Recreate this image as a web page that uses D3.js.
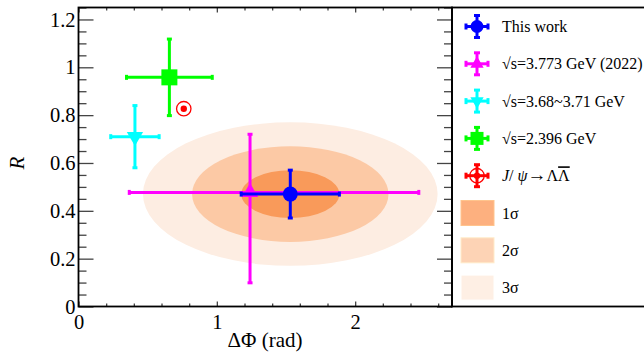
<!DOCTYPE html>
<html>
<head>
<meta charset="utf-8">
<script src="https://cdn.jsdelivr.net/npm/d3@7"></script>
<style>
  body { margin: 0; background: #fff; }
  text { font-family: 'Liberation Serif', 'Times New Roman', serif; fill: #000; }
</style>
</head>
<body>
<div id="chart"></div>
<script>
// measurements: [dPhi, dPhi err low, dPhi err high, R, R err low, R err high]
const seriesNames = ['This work', '√s=3.773 GeV (2022)', '√s=3.68~3.71 GeV', '√s=2.396 GeV', 'J/ψ→ΛΛ'];
const seriesColors = ['#0000ff', '#ff00ff', '#00ffff', '#00ff00', '#ff0000'];
const seriesShapes = ['circle', 'triangleUp', 'triangleDown', 'square', 'openCircle'];
const dPhiValues = [1.531, 1.240, 0.408, 0.657, 0.761];
const dPhiErrLow = [0.355, 0.873, 0.175, 0.31, 0];
const dPhiErrHigh = [0.355, 1.22, 0.175, 0.31, 0];
const rValues = [0.47, 0.477, 0.71, 0.958, 0.827];
const rErrLow = [0.10, 0.378, 0.13, 0.16, 0];
const rErrHigh = [0.10, 0.243, 0.13, 0.16, 0];

// contour regions around this work
const sigmaLabels = ['1σ', '2σ', '3σ'];
const sigmaScale = [1, 2, 3];
const sigmaFill = ['#f99a5a', '#fcc9a5', '#fdede2'];
const sigmaLegendFill = ['#fdb07f', '#fdd3b5', '#feefe4'];

const xMajorTicks = [0, 1, 2];
const yMajorTicks = [0, 0.2, 0.4, 0.6, 0.8, 1, 1.2];

const width = 644, height = 356;
const margin = {top: 7.5, right: 192, bottom: 50, left: 78.5};

const svg = d3.select('#chart').append('svg')
    .attr('width', width)
    .attr('height', height);

const x = d3.scaleLinear()
    .domain([0, 2.7])
    .range([margin.left, width - margin.right]);

const y = d3.scaleLinear()
    .domain([0, 1.25])
    .range([height - margin.bottom + 0.5, margin.top]);

const data = seriesNames.map((name, i) => ({
  name: name,
  color: seriesColors[i],
  shape: seriesShapes[i],
  x: dPhiValues[i], xLo: dPhiErrLow[i], xHi: dPhiErrHigh[i],
  y: rValues[i], yLo: rErrLow[i], yHi: rErrHigh[i]
}));

// Sigma ellipses, biggest first
const center = data[0];
const ellipses = sigmaScale.map((s, i) => ({s: s, fill: sigmaFill[i]})).reverse();
svg.append('g').selectAll('ellipse')
    .data(ellipses)
  .enter().append('ellipse')
    .attr('cx', x(center.x))
    .attr('cy', y(center.y))
    .attr('rx', d => x(center.x + d.s * center.xHi) - x(center.x))
    .attr('ry', d => y(center.y) - y(center.y + d.s * center.yHi))
    .attr('fill', d => d.fill);

// Marker drawing helper
function drawMarker(g, shape, color, size) {
  if (shape === 'circle') {
    g.append('circle').attr('r', size * 0.5).attr('fill', color);
  } else if (shape === 'triangleUp' || shape === 'triangleDown') {
    g.append('path')
        .attr('d', d3.symbol(d3.symbolTriangle, size * size * 0.45)())
        .attr('transform', shape === 'triangleDown' ? 'rotate(180)' : null)
        .attr('fill', color);
  } else if (shape === 'square') {
    g.append('rect')
        .attr('x', -size / 2).attr('y', -size / 2)
        .attr('width', size).attr('height', size)
        .attr('fill', color);
  } else if (shape === 'openCircle') {
    g.append('circle').attr('r', size * 0.45)
        .attr('fill', 'none').attr('stroke', color).attr('stroke-width', 1.3);
    g.append('circle').attr('r', size * 0.2).attr('fill', color);
  }
}

// Error bars + markers; draw "This work" last so it sits on top
const plotOrder = [1, 2, 3, 4, 0];
const points = svg.append('g');
plotOrder.forEach(i => {
  const d = data[i];
  const g = points.append('g');
  const cx = x(d.x), cy = y(d.y);
  const x0 = x(d.x - d.xLo), x1 = x(d.x + d.xHi);
  const y0 = y(d.y - d.yLo), y1 = y(d.y + d.yHi);
  const cap = 2.5;
  if (d.xLo + d.xHi > 0) {
    g.append('line').attr('x1', x0).attr('x2', x1).attr('y1', cy).attr('y2', cy);
    g.append('line').attr('x1', x0).attr('x2', x0).attr('y1', cy - cap).attr('y2', cy + cap);
    g.append('line').attr('x1', x1).attr('x2', x1).attr('y1', cy - cap).attr('y2', cy + cap);
  }
  if (d.yLo + d.yHi > 0) {
    g.append('line').attr('x1', cx).attr('x2', cx).attr('y1', y0).attr('y2', y1);
    g.append('line').attr('x1', cx - cap).attr('x2', cx + cap).attr('y1', y0).attr('y2', y0);
    g.append('line').attr('x1', cx - cap).attr('x2', cx + cap).attr('y1', y1).attr('y2', y1);
  }
  g.selectAll('line').attr('stroke', d.color).attr('stroke-width', 3);
  const size = d.shape === 'circle' ? 15 : 16;
  drawMarker(g.append('g').attr('transform', `translate(${cx},${cy})`), d.shape, d.color, size);
});

// Axes: ticks pointing inward on all four sides
const xMinor = d3.range(0, 2.71, 0.2).filter(v => !xMajorTicks.some(t => Math.abs(t - v) < 1e-6));
const yMinor = d3.range(0, 1.251, 0.05).filter(v => !yMajorTicks.some(t => Math.abs(t - v) < 1e-6));

const bottomAxis = svg.append('g').attr('transform', `translate(0,${y(0)})`)
    .call(d3.axisBottom(x).tickValues(xMajorTicks).tickSizeInner(-5).tickSizeOuter(0).tickPadding(8).tickFormat(d3.format('d')));
bottomAxis.append('g').call(d3.axisBottom(x).tickValues(xMinor).tickSize(-3).tickFormat(''));

const topAxis = svg.append('g').attr('transform', `translate(0,${margin.top})`)
    .call(d3.axisTop(x).tickValues(xMajorTicks).tickSize(-5).tickFormat(''));
topAxis.append('g').call(d3.axisTop(x).tickValues(xMinor).tickSize(-3).tickFormat(''));

const leftAxis = svg.append('g').attr('transform', `translate(${margin.left},0)`)
    .call(d3.axisLeft(y).tickValues(yMajorTicks).tickSizeInner(-15).tickSizeOuter(0).tickPadding(3).tickFormat(d => d3.format('')(d)));
leftAxis.append('g').call(d3.axisLeft(y).tickValues(yMinor).tickSize(-8).tickFormat(''));

const rightAxis = svg.append('g').attr('transform', `translate(${x(2.7)},0)`)
    .call(d3.axisRight(y).tickValues(yMajorTicks).tickSize(-15).tickFormat(''));
rightAxis.append('g').call(d3.axisRight(y).tickValues(yMinor).tickSize(-8).tickFormat(''));

svg.selectAll('.domain').remove();
svg.selectAll('.tick line').attr('stroke', '#444').attr('stroke-width', 1.3);
svg.selectAll('.tick text').style('font-family', "'Liberation Serif', serif").style('font-size', '20.5px').attr('fill', '#000');
bottomAxis.selectAll('.tick text').attr('dy', '0.71em');

// Plot frame
svg.append('rect')
    .attr('x', x(0)).attr('y', y(1.25))
    .attr('width', x(2.7) - x(0)).attr('height', y(0) - y(1.25))
    .attr('fill', 'none').attr('stroke', '#000').attr('stroke-width', 1.8);

// Axis titles
svg.append('text')
    .attr('x', 265).attr('y', 347)
    .attr('text-anchor', 'middle')
    .style('font-size', '21px')
    .text('ΔΦ (rad)');

svg.append('text')
    .attr('transform', 'translate(24,163) rotate(-90)')
    .attr('text-anchor', 'middle')
    .style('font-size', '21px')
    .style('font-style', 'italic')
    .text('R');

// Legend
const legendX = x(2.7);
svg.append('rect')
    .attr('x', legendX).attr('y', y(1.25))
    .attr('width', width + 2 - legendX).attr('height', y(0) - y(1.25))
    .attr('fill', 'none').attr('stroke', '#000').attr('stroke-width', 1.8);

const rowY = i => 26.5 + i * 37.3;
const markX = 477, textX = 502;

data.forEach((d, i) => {
  const g = svg.append('g').attr('transform', `translate(${markX},${rowY(i)})`);
  const arm = 11, cap = 3;
  g.append('line').attr('x1', -arm).attr('x2', arm).attr('y1', 0).attr('y2', 0);
  g.append('line').attr('x1', 0).attr('x2', 0).attr('y1', -arm).attr('y2', arm);
  g.append('line').attr('x1', -arm).attr('x2', -arm).attr('y1', -cap).attr('y2', cap);
  g.append('line').attr('x1', arm).attr('x2', arm).attr('y1', -cap).attr('y2', cap);
  g.append('line').attr('x1', -cap).attr('x2', cap).attr('y1', -arm).attr('y2', -arm);
  g.append('line').attr('x1', -cap).attr('x2', cap).attr('y1', arm).attr('y2', arm);
  g.selectAll('line').attr('stroke', d.color).attr('stroke-width', 3);
  drawMarker(g, d.shape, d.color, d.shape === 'openCircle' ? 16 : 13);

  const t = svg.append('text')
      .attr('x', textX).attr('y', rowY(i))
      .attr('dy', '0.35em')
      .style('font-size', '16px');
  if (d.shape === 'openCircle') {
    t.append('tspan').style('font-style', 'italic').text('J');
    t.append('tspan').text('/ ');
    t.append('tspan').style('font-style', 'italic').text('ψ');
    t.append('tspan').style('font-size', '19px').text('→');
    t.append('tspan').text('Λ');
    t.append('tspan').style('text-decoration', 'overline').text('Λ');
  } else {
    t.text(d.name);
  }
});

sigmaLabels.forEach((label, i) => {
  const cy = rowY(i + 5);
  svg.append('rect')
      .attr('x', 461).attr('y', cy - 12.5)
      .attr('width', 33).attr('height', 25)
      .attr('fill', sigmaLegendFill[i])
      .attr('stroke', d3.color(sigmaLegendFill[i]).brighter(0.3))
      .attr('stroke-width', 1);
  svg.append('text')
      .attr('x', textX).attr('y', cy)
      .attr('dy', '0.35em')
      .style('font-size', '16px')
      .text(label);
});
</script>
</body>
</html>
